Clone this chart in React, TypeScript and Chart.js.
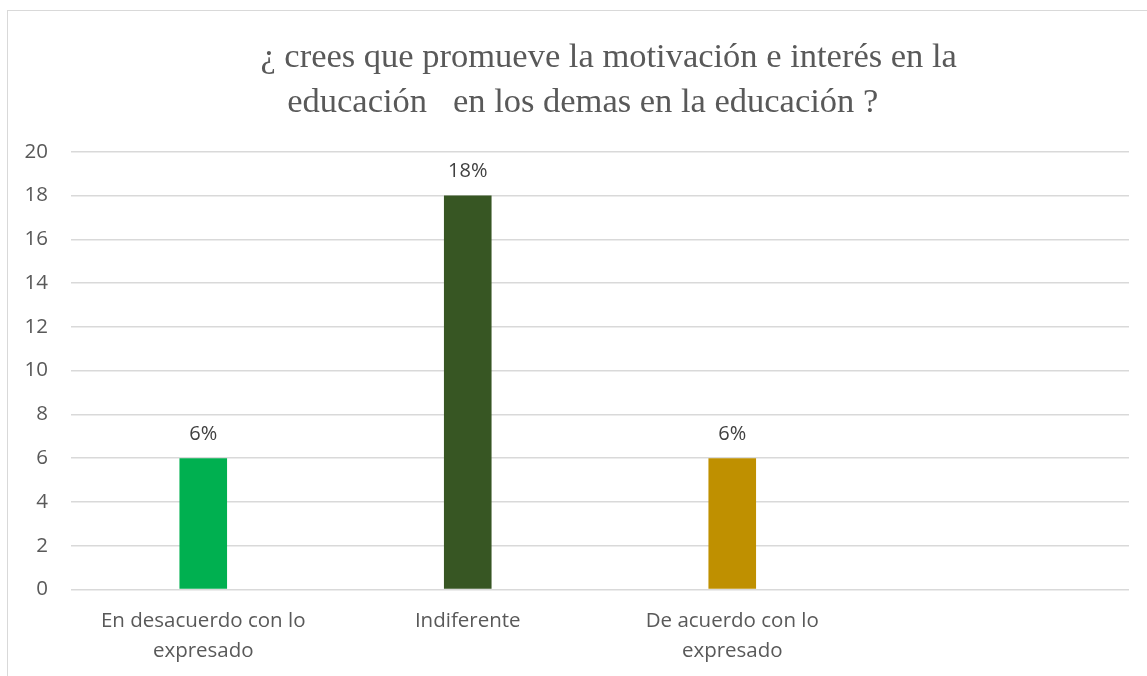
import React, { useEffect, useRef } from "react";
import { Chart, registerables } from "chart.js";

Chart.register(...registerables);

const categories: (string | string[])[] = [
  ["En desacuerdo con lo", "expresado"],
  "Indiferente",
  ["De acuerdo con lo", "expresado"],
  "",
];
const values: (number | null)[] = [6, 18, 6, null];
const barColors = ["#00B050", "#375623", "#BF9000", "#BF9000"];
const titleLines = [
  "  ¿ crees que promueve la motivación e interés en la",
  "educación   en los demas en la educación ?    ",
];
const yMin = 0;
const yMax = 20;
const yStep = 2;

const TEXT = "#595959";
const FONT = "'Open Sans', 'Noto Sans', sans-serif";

const dataLabelPlugin = {
  id: "dataLabels",
  afterDatasetsDraw(chart: any) {
    const ctx = chart.ctx;
    const meta = chart.getDatasetMeta(0);
    ctx.save();
    ctx.font = `20px ${FONT}`;
    ctx.fillStyle = "#404040";
    ctx.textAlign = "center";
    ctx.textBaseline = "middle";
    meta.data.forEach((el: any, i: number) => {
      const v = values[i];
      if (v === null || v === undefined) return;
      ctx.fillText(`${v}%`, el.x, el.y - 24);
    });
    ctx.restore();
  },
};

export default function App() {
  const ref = useRef<HTMLCanvasElement>(null);
  useEffect(() => {
    if (!ref.current) return;
    const chart = new Chart(ref.current, {
      type: "bar",
      data: {
        labels: categories,
        datasets: [
          {
            data: values,
            backgroundColor: barColors,
            barPercentage: 0.18,
            categoryPercentage: 1,
          },
        ],
      },
      options: {
        responsive: false,
        animation: false,
        layout: { padding: { left: 0, right: 19, top: 0, bottom: 12 } },
        plugins: {
          legend: { display: false },
          tooltip: { enabled: false },
          title: {
            display: true,
            text: titleLines,
            fullSize: false,
            color: TEXT,
            font: { family: "'Liberation Serif', 'Times New Roman', serif", size: 34.5, weight: "normal", lineHeight: 1.3 },
            padding: { top: 25, bottom: 26 },
          },
        },
        scales: {
          x: {
            grid: { display: false },
            border: { display: false },
            ticks: {
              color: TEXT,
              font: { family: FONT, size: 20.5, lineHeight: 1.5 },
              padding: 8,
              maxRotation: 0,
              autoSkip: false,
            },
          },
          y: {
            min: yMin,
            max: yMax,
            grid: { color: "#d9d9d9", lineWidth: 1.5, drawTicks: false },
            border: { display: false },
            ticks: {
              stepSize: yStep,
              color: TEXT,
              font: { family: FONT, size: 20.5 },
              padding: 23,
            },
            afterFit(scale: any) {
              scale.width = 63;
            },
          },
        },
      },
      plugins: [dataLabelPlugin],
    } as any);
    return () => chart.destroy();
  }, []);

  return (
    <div style={{ position: "fixed", inset: 0, overflow: "hidden", background: "#fff" }}>
      <div
        style={{
          position: "absolute",
          left: 7,
          top: 10,
          width: 1160,
          height: 720,
          border: "1px solid #d9d9d9",
          boxSizing: "border-box",
        }}
      >
        <canvas ref={ref} width={1140} height={676} style={{ display: "block" }} />
      </div>
    </div>
  );
}
